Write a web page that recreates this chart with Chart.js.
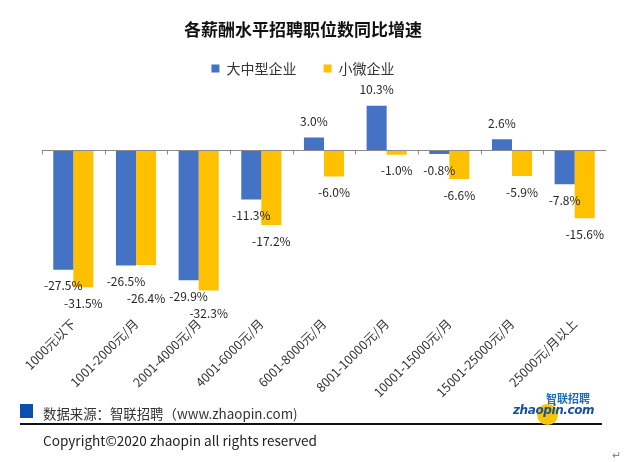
<!DOCTYPE html>
<html>
<head>
<meta charset="utf-8">
<script src="https://cdn.jsdelivr.net/npm/chart.js@4"></script>
<style>
    body { margin: 0; background: #fff; width: 640px; height: 462px; overflow: hidden; position: relative; font-family: "Noto Sans CJK SC", "Noto Sans", sans-serif; }
    #wrap { position: absolute; left: 0; top: 0; width: 606px; height: 400px; }
    .src-box { position: absolute; left: 20px; top: 404px; width: 13px; height: 14px; background: #0b4fae; }
    .src { position: absolute; left: 43px; top: 403px; font-size: 13.4px; color: #333; line-height: 20px; white-space: nowrap; }
    .rule { position: absolute; left: 20px; top: 423px; width: 582px; height: 2px; background: #111; }
    .copy { position: absolute; left: 43px; top: 430px; font-size: 13.6px; color: #222; line-height: 20px; white-space: nowrap; }
    .logo-dot { position: absolute; left: 537px; top: 404px; width: 21px; height: 21px; border-radius: 50%; background: #f6c400; }
    .logo-cn { position: absolute; left: 546px; top: 392px; font-size: 11px; font-weight: bold; color: #1d6fb8; line-height: 13px; letter-spacing: 0px; }
    .logo-en { position: absolute; left: 513px; top: 403px; font-size: 12px; font-weight: bold; font-style: italic; color: #1a4f9c; line-height: 14px; font-family: "DejaVu Sans", sans-serif; letter-spacing: -0.4px; }
    .ret { position: absolute; left: 612px; top: 446px; font-size: 11px; color: #888; }
</style>
</head>
<body>
<div id="wrap"><canvas id="chart"></canvas></div>
<div class="src-box"></div>
<div class="src">数据来源：智联招聘（www.zhaopin.com)</div>
<div class="rule"></div>
<div class="copy">Copyright©2020 zhaopin all rights reserved</div>
<div class="logo-dot"></div>
<div class="logo-en">zhaopin.com</div>
<div class="logo-cn">智联招聘</div>
<div class="ret">↵</div>
<script>
// salary bands and yoy growth (%) of job postings
const categories = ["1000元以下", "1001-2000元/月", "2001-4000元/月", "4001-6000元/月", "6001-8000元/月",
    "8001-10000元/月", "10001-15000元/月", "15001-25000元/月", "25000元/月以上"];
const largeMid = [-27.5, -26.5, -29.9, -11.3, 3.0, 10.3, -0.8, 2.6, -7.8];
const smallMicro = [-31.5, -26.4, -32.3, -17.2, -6.0, -1.0, -6.6, -5.9, -15.6];
const seriesNames = ["大中型企业", "小微企业"];

const FONT = "'Noto Sans CJK SC', 'Noto Sans', sans-serif";

// zero line with small ticks between categories
const zeroLine = {
    id: "zeroLine",
    afterDatasetsDraw(chart) {
        const { ctx, scales: { x, y } } = chart;
        const y0 = Math.round(y.getPixelForValue(0)) + 0.5;
        const n = categories.length;
        const step = (x.right - x.left) / n;
        ctx.save();
        ctx.strokeStyle = "#8a8a8a";
        ctx.lineWidth = 1;
        ctx.beginPath();
        ctx.moveTo(x.left, y0);
        ctx.lineTo(x.right, y0);
        for (let i = 0; i <= n; i++) {
            const px = Math.round(x.left + i * step) + 0.5;
            ctx.moveTo(px, y0);
            ctx.lineTo(px, y0 + 4);
        }
        ctx.stroke();
        ctx.restore();
    }
};

// value labels above / below each bar, pushed down if two labels collide
const valueLabels = {
    id: "valueLabels",
    afterDatasetsDraw(chart) {
        const { ctx } = chart;
        ctx.save();
        ctx.font = "12px " + FONT;
        ctx.fillStyle = "#262626";
        ctx.textAlign = "center";
        ctx.textBaseline = "middle";
        const firstY = [];
        chart.data.datasets.forEach((ds, di) => {
            chart.getDatasetMeta(di).data.forEach((bar, i) => {
                const v = ds.data[i];
                let ty = v >= 0 ? bar.y - 16 : bar.y + 16;
                if (di === 0) {
                    firstY[i] = ty;
                } else if (Math.abs(ty - firstY[i]) < 13) {
                    ty = firstY[i] + 17;
                }
                ctx.fillText(v.toFixed(1) + "%", bar.x, ty);
            });
        });
        ctx.restore();
    }
};

const legendNames = [seriesNames[0] + "　 ", seriesNames[1]];

new Chart(document.getElementById("chart"), {
    type: "bar",
    data: {
        labels: categories,
        datasets: [
            { label: legendNames[0], data: largeMid, backgroundColor: "#4472c4" },
            { label: legendNames[1], data: smallMicro, backgroundColor: "#ffc000" }
        ]
    },
    options: {
        responsive: true,
        maintainAspectRatio: false,
        animation: false,
        layout: { padding: { left: 0, right: 0, top: 0, bottom: 0 } },
        datasets: { bar: { categoryPercentage: 0.64, barPercentage: 1.0 } },
        scales: {
            x: {
                grid: { display: false },
                border: { display: false },
                ticks: {
                    autoSkip: false,
                    minRotation: 45,
                    maxRotation: 45,
                    padding: -3,
                    color: "#333",
                    font: { family: FONT, size: 12.5 }
                },
                afterFit(scale) { scale.height = 89; }
            },
            y: {
                min: -37,
                max: 15,
                grid: { display: false },
                border: { display: false },
                ticks: { display: false },
                afterFit(scale) { scale.width = 42; }
            }
        },
        plugins: {
            title: {
                display: true,
                text: "各薪酬水平招聘职位数同比增速",
                color: "#111",
                font: { family: FONT, size: 17, weight: "bold" },
                padding: { top: 19, bottom: 12 }
            },
            legend: {
                display: true,
                position: "top",
                labels: {
                    boxWidth: 8,
                    boxHeight: 8,
                    padding: 10,
                    color: "#333",
                    font: { family: FONT, size: 14 }
                }
            },
            tooltip: { enabled: false }
        }
    },
    plugins: [zeroLine, valueLabels]
});
</script>
</body>
</html>
